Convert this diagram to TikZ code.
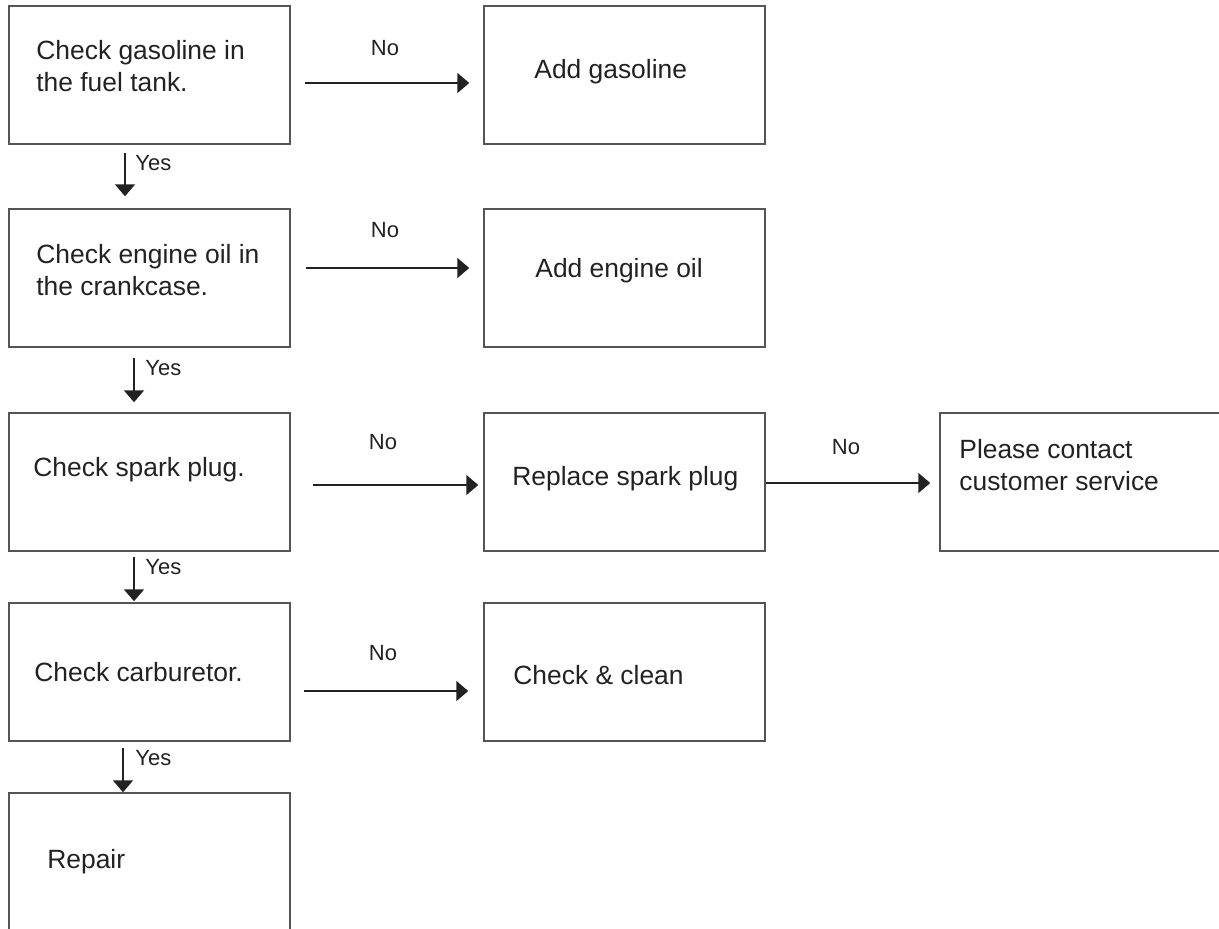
\documentclass[tikz,border=0pt]{standalone}
\usepackage{fontspec}
\setmainfont{Liberation Sans}
\usetikzlibrary{arrows.meta}
\definecolor{inkgray}{HTML}{222222}
\definecolor{edgegray}{HTML}{555555}

\begin{document}
\begin{tikzpicture}[x=0.5pt, y=-0.5pt,
    box/.style={draw=edgegray, line width=0.75pt, rectangle, inner sep=0pt, minimum width=140.5pt, minimum height=69pt},
    txt/.style={anchor=west, inner sep=0pt, align=left, text=inkgray, font=\fontsize{13.2pt}{16pt}\selectfont},
    lbl/.style={inner sep=0pt, text=inkgray, font=\fontsize{11pt}{13pt}\selectfont},
    flow/.style={-{Triangle[length=6pt, width=10pt]}, line width=1pt, draw=inkgray}]
        \useasboundingbox (0,0) rectangle (1219,928);
        \clip (0,0) rectangle (1219,928);

        % Các hộp
        \node[box] (fuel)    at (149.5, 75)  {};
        \node[box] (addfuel) at (624.5, 75)  {};
        \node[box] (oil)     at (149.5, 278) {};
        \node[box] (addoil)  at (624.5, 278) {};
        \node[box] (plug)    at (149.5, 482) {};
        \node[box] (newplug) at (624.5, 482) {};
        \node[box, minimum width=145pt] (service) at (1085, 482) {};
        \node[box] (carb)    at (149.5, 672) {};
        \node[box] (clean)   at (624.5, 672) {};
        \node[box, minimum height=73.5pt] (repair) at (149.5, 866.5) {};

        % Chữ trong hộp
        \node[txt] (fueltxt)    at (36, 66)   {Check gasoline in\\the fuel tank.};
        \node[txt] (addfueltxt) at (534, 72)  {Add gasoline};
        \node[txt] (oiltxt)     at (36, 270)  {Check engine oil in\\the crankcase.};
        \node[txt] (addoiltxt)  at (535, 271) {Add engine oil};
        \node[txt] (plugtxt)    at (33, 470)  {Check spark plug.};
        \node[txt] (newplugtxt) at (512, 479) {Replace spark plug};
        \node[txt] (servicetxt) at (959, 465) {Please contact\\customer service};
        \node[txt] (carbtxt)    at (34, 672)  {Check carburetor.};
        \node[txt] (cleantxt)   at (513, 675) {Check \& clean};
        \node[txt] (repairtxt)  at (47, 862)  {Repair};

        % Mũi tên "No"
        \draw[flow, shorten <=7pt, shorten >=7pt] ([yshift=-4pt]fuel.east) -- ([yshift=-4pt]fuel.east -| addfuel.west);
        \draw[flow, shorten <=7.5pt, shorten >=7pt] ([yshift=5pt]oil.east) -- ([yshift=5pt]oil.east -| addoil.west);
        \draw[flow, shorten <=11pt, shorten >=2.5pt] ([yshift=-1.5pt]plug.east) -- ([yshift=-1.5pt]plug.east -| newplug.west);
        \draw[flow, shorten >=4.5pt] ([yshift=-0.5pt]newplug.east) -- ([yshift=-0.5pt]newplug.east -| service.west);
        \draw[flow, shorten <=6.5pt, shorten >=7.5pt] ([yshift=-9.5pt]carb.east) -- ([yshift=-9.5pt]carb.east -| clean.west);

        % Mũi tên "Yes"
        \draw[flow, shorten <=4pt, shorten >=6pt] ([xshift=-12.25pt]fuel.south) -- ([xshift=-12.25pt]fuel.south |- oil.north);
        \draw[flow, shorten <=5pt, shorten >=5pt] ([xshift=-7.75pt]oil.south) -- ([xshift=-7.75pt]oil.south |- plug.north);
        \draw[flow, shorten <=2.5pt, shorten >=0.5pt] ([xshift=-7.75pt]plug.south) -- ([xshift=-7.75pt]plug.south |- carb.north);
        \draw[flow, shorten <=3pt] ([xshift=-13.25pt]carb.south) -- ([xshift=-13.25pt]carb.south |- repair.north);

        % Nhãn
        \node[lbl] (no1) at (385, 48)  {No};
        \node[lbl] (no2) at (385, 230) {No};
        \node[lbl] (no3) at (383, 442) {No};
        \node[lbl] (no4) at (846, 447) {No};
        \node[lbl] (no5) at (383, 653) {No};
        \node[lbl, anchor=west] (yes1) at (135, 163) {Yes};
        \node[lbl, anchor=west] (yes2) at (145, 368) {Yes};
        \node[lbl, anchor=west] (yes3) at (145, 567) {Yes};
        \node[lbl, anchor=west] (yes4) at (135, 758) {Yes};
    \end{tikzpicture}
\end{document}
